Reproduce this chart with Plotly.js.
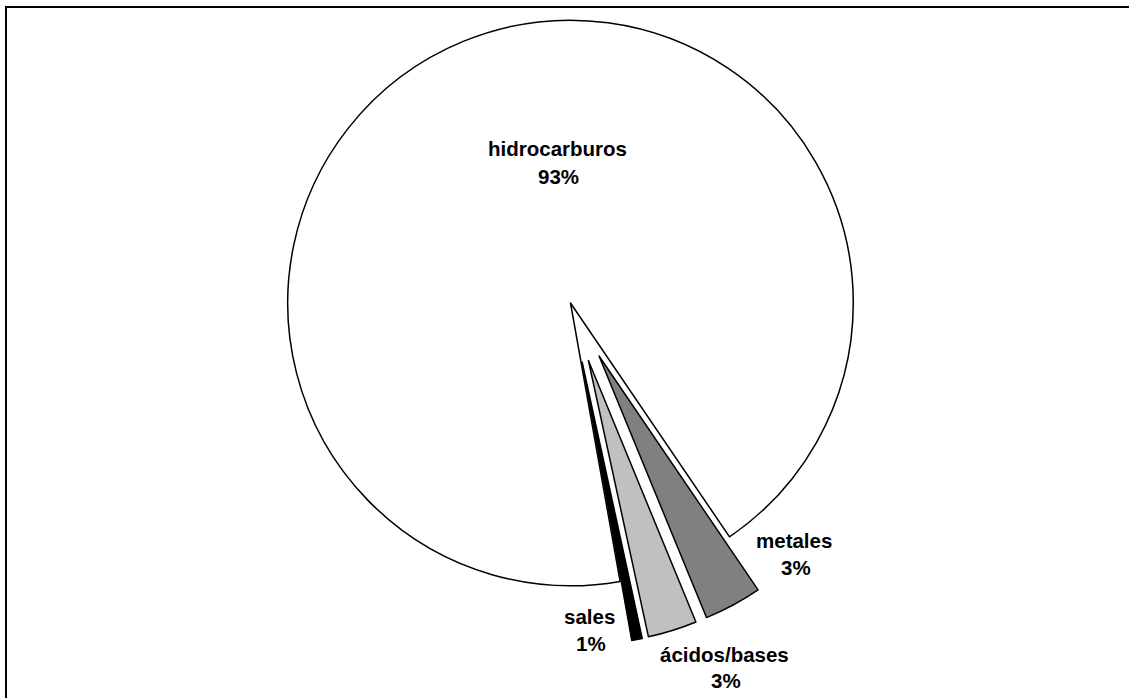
<!DOCTYPE html>
<html>
<head>
<meta charset="utf-8">
<script src="https://cdn.plot.ly/plotly-3.0.1.min.js"></script>
<style>
  html, body { margin: 0; padding: 0; overflow: hidden; background: #fff; }
  #chart { position: absolute; left: 0; top: -40px; width: 1129px; height: 738px; }
  #frameTop { position: absolute; left: 5px; top: 6px; width: 1200px; height: 2px; background: #000; z-index: 3; }
  #frameLeft { position: absolute; left: 5px; top: 6px; width: 2px; height: 800px; background: #000; z-index: 3; }
  #rightPad { position: absolute; left: 1100px; top: 8px; width: 100px; height: 800px; background: #fff; z-index: 2; }
</style>
</head>
<body>
<div id="chart"></div>
<div id="rightPad"></div>
<div id="frameTop"></div>
<div id="frameLeft"></div>
<script>
// ---- data ----
const categories = ['hidrocarburos', 'metales', 'ácidos/bases', 'sales'];
const values = [93.3, 3.3, 2.8, 0.6];
const sliceColors = ['#FFFFFF', '#808080', '#C0C0C0', '#000000'];
const pulls = [0, 0.213, 0.213, 0.213];

// ---- layout helpers ----
const W = 1129, H = 738, OFFSET = 40;   // chart div is shifted up by OFFSET px
const px = x => x / W;
const py = y => 1 - (y + OFFSET) / H;

const total = values.reduce((a, b) => a + b, 0);
const pctText = values.map(v => Math.round(v / total * 100) + '%');

// label centres (window pixels): [name line, percent line]
const labelPos = [
  [[557, 148], [558, 176]],
  [[794, 540], [796, 567]],
  [[724, 654], [726, 680]],
  [[589, 616], [591, 643]]
];

const font = { family: 'Arial, "Liberation Sans", sans-serif', size: 20.5, color: '#000', weight: 'bold' };
const annotations = [];
categories.forEach((c, i) => {
  const [p1, p2] = labelPos[i];
  annotations.push({ text: c, x: px(p1[0]), y: py(p1[1]), xref: 'paper', yref: 'paper',
    xanchor: 'center', yanchor: 'middle', showarrow: false, font: font });
  annotations.push({ text: pctText[i], x: px(p2[0]), y: py(p2[1]), xref: 'paper', yref: 'paper',
    xanchor: 'center', yanchor: 'middle', showarrow: false, font: font });
});

const boxH = 686;
const cx = 570.5 / W;
const trace = {
  type: 'pie',
  labels: categories,
  values: values,
  sort: false,
  direction: 'clockwise',
  rotation: 169.9,
  pull: pulls,
  marker: { colors: sliceColors, line: { color: '#000', width: 1.5 } },
  textinfo: 'none',
  showlegend: false,
  domain: { x: [cx - 0.31, cx + 0.31], y: [1 - boxH / H, 1] }
};

const layout = {
  width: W, height: H,
  margin: { l: 0, r: 0, t: 0, b: 0 },
  annotations: annotations
};

Plotly.newPlot('chart', [trace], layout, { staticPlot: true });
</script>
</body>
</html>
